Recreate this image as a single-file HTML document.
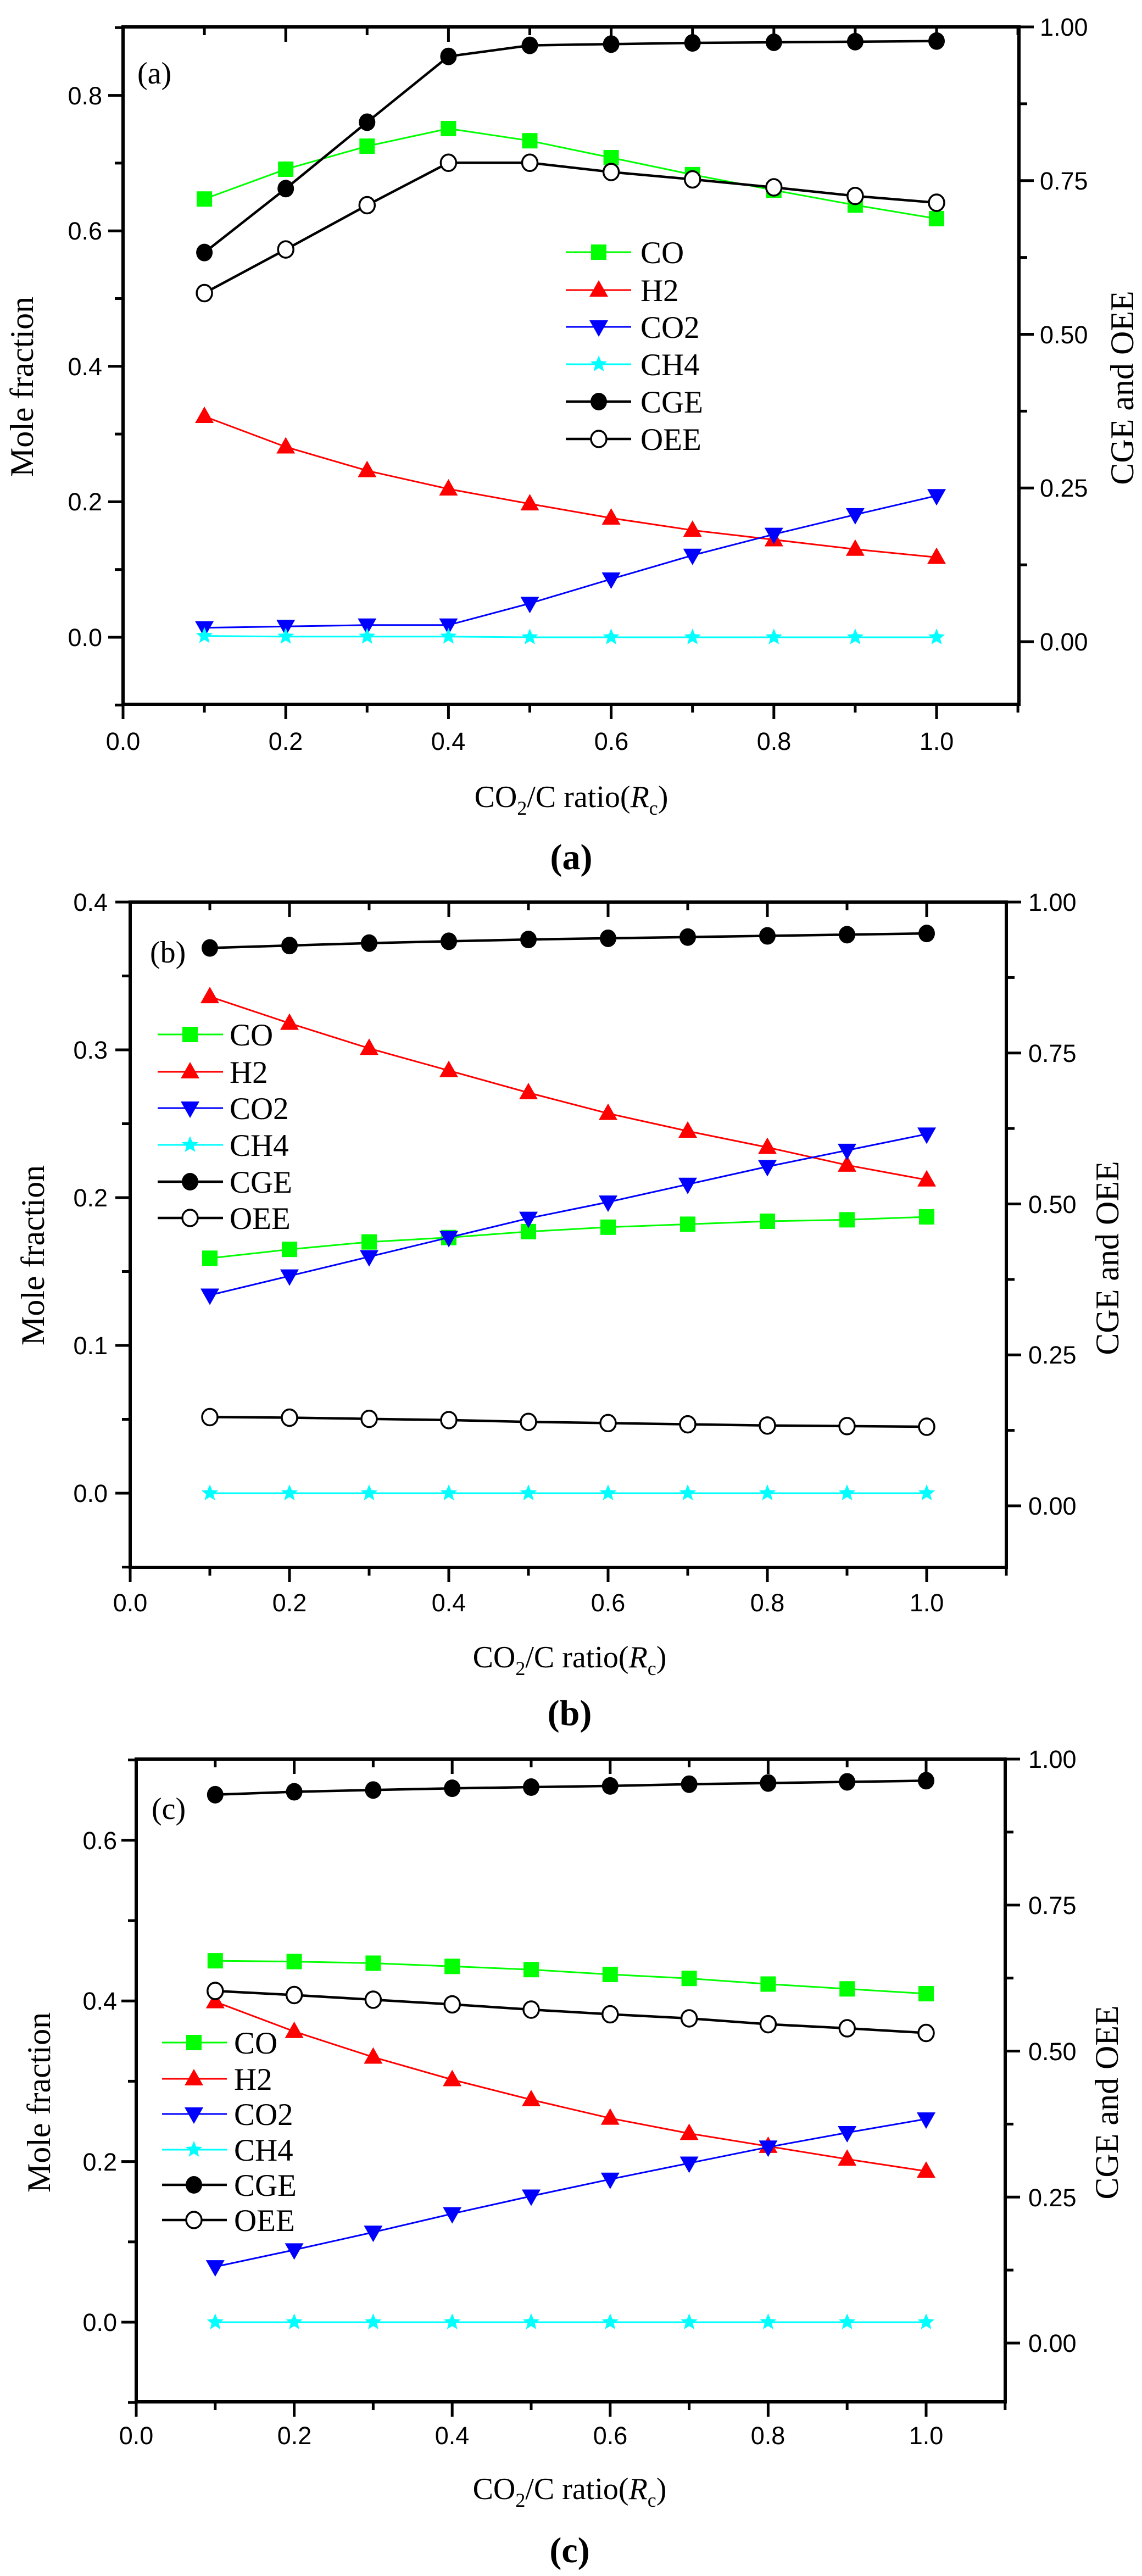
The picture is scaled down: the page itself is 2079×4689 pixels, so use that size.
<!DOCTYPE html>
<html><head><meta charset="utf-8"><style>
html,body{margin:0;padding:0;background:#fff;}
svg{display:block;}
.t{font-family:"Liberation Sans",sans-serif;font-size:45px;fill:#000;}
.s{font-family:"Liberation Serif",serif;fill:#000;}
</style></head><body>
<svg id="g" width="2079" height="4689" viewBox="0 0 2079 4689" xmlns="http://www.w3.org/2000/svg">
<rect width="2079" height="4689" fill="#fff"/>
<g id="shapes"></g>
<g class="t" text-anchor="end">
<text x="186" y="1176">0.0</text><text x="186" y="929">0.2</text><text x="186" y="683">0.4</text><text x="186" y="436">0.6</text><text x="186" y="190">0.8</text>
<text x="196" y="2734">0.0</text><text x="196" y="2465">0.1</text><text x="196" y="2196">0.2</text><text x="196" y="1927">0.3</text><text x="196" y="1658">0.4</text>
<text x="213" y="4243">0.0</text><text x="213" y="3951">0.2</text><text x="213" y="3658">0.4</text><text x="213" y="3366">0.6</text>
</g>
<g class="t">
<text x="1893" y="1184">0.00</text><text x="1893" y="904">0.25</text><text x="1893" y="625">0.50</text><text x="1893" y="345">0.75</text><text x="1893" y="65">1.00</text>
<text x="1872" y="2757">0.00</text><text x="1872" y="2482">0.25</text><text x="1872" y="2208">0.50</text><text x="1872" y="1933">0.75</text><text x="1872" y="1658">1.00</text>
<text x="1872" y="4281">0.00</text><text x="1872" y="4016">0.25</text><text x="1872" y="3750">0.50</text><text x="1872" y="3484">0.75</text><text x="1872" y="3218">1.00</text>
</g>
<g class="t" text-anchor="middle">
<text x="224" y="1365">0.0</text><text x="520" y="1365">0.2</text><text x="816" y="1365">0.4</text><text x="1113" y="1365">0.6</text><text x="1409" y="1365">0.8</text><text x="1705" y="1365">1.0</text>
<text x="237" y="2933">0.0</text><text x="527" y="2933">0.2</text><text x="817" y="2933">0.4</text><text x="1107" y="2933">0.6</text><text x="1397" y="2933">0.8</text><text x="1687" y="2933">1.0</text>
<text x="248" y="4449">0.0</text><text x="536" y="4449">0.2</text><text x="823" y="4449">0.4</text><text x="1111" y="4449">0.6</text><text x="1398" y="4449">0.8</text><text x="1686" y="4449">1.0</text>
</g>
<g class="s" font-size="60" text-anchor="middle">
<text transform="translate(60,704) rotate(-90)">Mole fraction</text>
<text transform="translate(2063,706) rotate(-90)">CGE and OEE</text>
<text transform="translate(80,2285) rotate(-90)">Mole fraction</text>
<text transform="translate(2036,2290) rotate(-90)">CGE and OEE</text>
<text transform="translate(91,3827) rotate(-90)">Mole fraction</text>
<text transform="translate(2035,3827) rotate(-90)">CGE and OEE</text>
</g>
<g class="s" font-size="56">
<text x="1040" y="1469" text-anchor="middle">CO<tspan font-size="36" dy="14">2</tspan><tspan dy="-14">/C ratio(</tspan><tspan font-style="italic">R</tspan><tspan font-size="36" dy="14">c</tspan><tspan dy="-14">)</tspan></text>
<text x="1037" y="3035" text-anchor="middle">CO<tspan font-size="36" dy="14">2</tspan><tspan dy="-14">/C ratio(</tspan><tspan font-style="italic">R</tspan><tspan font-size="36" dy="14">c</tspan><tspan dy="-14">)</tspan></text>
<text x="1037" y="4549" text-anchor="middle">CO<tspan font-size="36" dy="14">2</tspan><tspan dy="-14">/C ratio(</tspan><tspan font-style="italic">R</tspan><tspan font-size="36" dy="14">c</tspan><tspan dy="-14">)</tspan></text>
<text x="250" y="152">(a)</text>
<text x="273" y="1752">(b)</text>
<text x="276" y="3311">(c)</text>
</g>
<g class="s" font-size="66" font-weight="bold" text-anchor="middle">
<text x="1040" y="1582">(a)</text>
<text x="1037" y="3140">(b)</text>
<text x="1037" y="4664">(c)</text>
</g>
<g class="s" font-size="57">
<text x="1166" y="479">CO</text><text x="1166" y="548">H2</text><text x="1166" y="615">CO2</text><text x="1166" y="683">CH4</text><text x="1166" y="751">CGE</text><text x="1166" y="819">OEE</text>
<text x="418" y="1903">CO</text><text x="418" y="1971">H2</text><text x="418" y="2037">CO2</text><text x="418" y="2104">CH4</text><text x="418" y="2171">CGE</text><text x="418" y="2237">OEE</text>
<text x="426" y="3738">CO</text><text x="426" y="3804">H2</text><text x="426" y="3868">CO2</text><text x="426" y="3933">CH4</text><text x="426" y="3997">CGE</text><text x="426" y="4061">OEE</text>
</g>
</svg>
<script>
(function(){
var G=document.getElementById("shapes"),out="";
function ln(x1,y1,x2,y2,c,w){out+='<line x1="'+x1+'" y1="'+y1+'" x2="'+x2+'" y2="'+y2+'" stroke="'+c+'" stroke-width="'+w+'"/>';}
function mk(t,x,y){
 if(t=="sq")out+='<rect x="'+(x-14)+'" y="'+(y-14)+'" width="28" height="28" fill="#00ff00"/>';
 else if(t=="up")out+='<polygon points="'+x+','+(y-18)+' '+(x+17)+','+(y+12)+' '+(x-17)+','+(y+12)+'" fill="#ff0000"/>';
 else if(t=="dn")out+='<polygon points="'+x+','+(y+18)+' '+(x+17)+','+(y-12)+' '+(x-17)+','+(y-12)+'" fill="#0000ff"/>';
 else if(t=="st"){var p=[];for(var i=0;i<10;i++){var r=i%2?7:16,a=-Math.PI/2+i*Math.PI/5;p.push((x+r*Math.cos(a)).toFixed(1)+','+(y+r*Math.sin(a)).toFixed(1));}out+='<polygon points="'+p.join(' ')+'" fill="#00ffff"/>';}
 else if(t=="fc")out+='<ellipse cx="'+x+'" cy="'+y+'" rx="15" ry="16" fill="#000"/>';
 else if(t=="oc")out+='<ellipse cx="'+x+'" cy="'+y+'" rx="14" ry="15" fill="#fff" stroke="#000" stroke-width="3.5"/>';
}
var S={CO:["#00ff00","sq",3,"L"],H2:["#ff0000","up",3,"L"],CO2:["#0000ff","dn",3,"L"],CH4:["#00ffff","st",3,"L"],CGE:["#000","fc",4.5,"R"],OEE:["#000","oc",4.5,"R"]};
var order=["CO","H2","CO2","CH4","CGE","OEE"];
var P=[
{L:224,R:1855,T:49,B:1282,x0:224,xs:1481,y0:1160,ys:1233,lmin:-0.1,lmax:0.9,lmaj:0.2,lmin_:0.1,r0:1168,rs:1119,
 leg:{x1:1030,x2:1149,m:1090,ys:[459,528,595,663,731,799]},
 d:{CO:[.647,.691,.725,.751,.733,.708,.683,.660,.638,.618],H2:[.326,.281,.246,.219,.197,.176,.158,.144,.130,.118],
 CO2:[.014,.016,.018,.018,.050,.086,.121,.152,.181,.209],CH4:[.002,.001,.001,.001,0,0,0,0,0,0],
 CGE:[.633,.737,.845,.952,.970,.972,.974,.975,.976,.977],OEE:[.567,.638,.710,.779,.779,.764,.752,.739,.725,.714]}},
{L:237,R:1832,T:1642,B:2853,x0:237,xs:1450,y0:2718,ys:2690,lmin:-0.05,lmax:0.4,lmaj:0.1,lmin_:0.05,r0:2741,rs:1099,
 leg:{x1:287,x2:406,m:346,ys:[1883,1951,2017,2084,2151,2217]},
 d:{CO:[.159,.165,.170,.173,.177,.180,.182,.184,.185,.187],H2:[.336,.318,.301,.286,.271,.257,.245,.234,.222,.212],
 CO2:[.134,.147,.160,.173,.186,.197,.209,.221,.232,.243],CH4:[0,0,0,0,0,0,0,0,0,0],
 CGE:[.924,.928,.932,.935,.938,.940,.942,.944,.946,.948],OEE:[.147,.146,.144,.142,.139,.137,.135,.133,.132,.131]}},
{L:248,R:1830,T:3202,B:4372,x0:248,xs:1438,y0:4227,ys:1462,lmin:-0.1,lmax:0.7,lmaj:0.2,lmin_:0.1,r0:4265,rs:1063,
 leg:{x1:295,x2:413,m:353,ys:[3718,3784,3848,3913,3977,4041]},
 d:{CO:[.450,.449,.447,.443,.439,.433,.428,.421,.415,.409],H2:[.399,.362,.330,.302,.277,.254,.235,.219,.203,.188],
 CO2:[.069,.090,.112,.135,.157,.178,.198,.218,.236,.253],CH4:[0,0,0,0,0,0,0,0,0,0],
 CGE:[.939,.944,.947,.950,.952,.954,.957,.959,.961,.963],OEE:[.603,.596,.588,.580,.571,.563,.556,.546,.539,.531]}}
];
P.forEach(function(p){
 for(var i=0;i<=11;i++){var x=p.x0+p.xs*i/10,len=(i%2==0)?27:15;ln(x,p.B,x,p.B+len,"#000",5);ln(x,p.T,x,p.T+len,"#000",5);}
 var n=Math.round((p.lmax-p.lmin)/p.lmin_);
 for(var i=0;i<=n;i++){var v=p.lmin+i*p.lmin_,y=p.y0-v*p.ys;var maj=Math.abs(v/p.lmaj-Math.round(v/p.lmaj))<1e-6;ln(p.L,y,p.L-(maj?27:15),y,"#000",5);}
 for(var i=0;i<=8;i++){var v=i*0.125,y=p.r0-v*p.rs;ln(p.R,y,p.R+(i%2==0?27:15),y,"#000",5);}
 out+='<rect x="'+p.L+'" y="'+p.T+'" width="'+(p.R-p.L)+'" height="'+(p.B-p.T)+'" fill="none" stroke="#000" stroke-width="6"/>';
 order.forEach(function(k){
  var s=S[k],d=p.d[k],pts=[];
  for(var i=0;i<10;i++){var x=p.x0+p.xs*(i+1)/10,y=s[3]=="L"?p.y0-d[i]*p.ys:p.r0-d[i]*p.rs;pts.push([x,y]);}
  out+='<polyline fill="none" stroke="'+s[0]+'" stroke-width="'+s[2]+'" points="'+pts.map(function(q){return q[0].toFixed(1)+','+q[1].toFixed(1);}).join(' ')+'"/>';
  pts.forEach(function(q){mk(s[1],q[0],q[1]);});
 });
 order.forEach(function(k,j){var s=S[k],y=p.leg.ys[j];ln(p.leg.x1,y,p.leg.x2,y,s[0],s[2]);mk(s[1],p.leg.m,y);});
});
G.innerHTML=out;
})();
</script>
</body></html>
